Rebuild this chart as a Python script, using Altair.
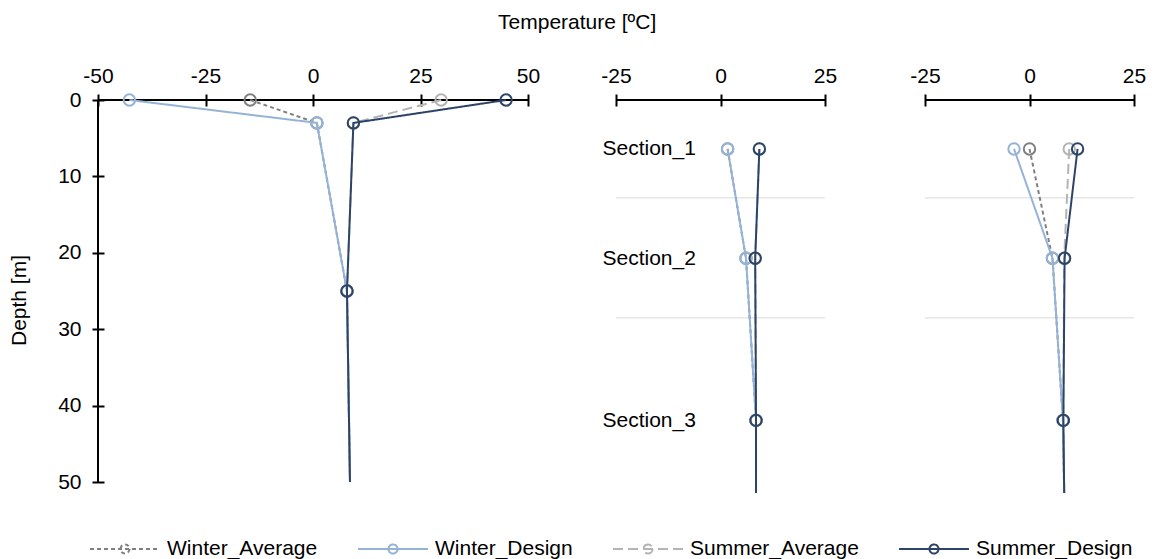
import altair as alt
import pandas as pd

FONT = "Liberation Sans"
FS = 21

# ---------------- data ----------------
series_names = ["Winter_Average", "Winter_Design", "Summer_Average", "Summer_Design"]
series_colors = ["#808080", "#95b3d7", "#b4b4b4", "#2b4468"]
series_dashes = [[4, 3], [1, 0], [10, 5], [1, 0]]

# Panel 1: depth profile (m)
depth_main = [0, 3, 25, 50]
marker_main = [1, 1, 1, 0]
winter_avg_main = [-14.6, 0.9, 7.9, 8.6]
winter_design_main = [-42.7, 0.9, 7.9, 8.6]
summer_avg_main = [29.8, 9.4, 7.9, 8.6]
summer_design_main = [44.9, 9.4, 7.9, 8.6]

# Section panels
section_names = ["Section_1", "Section_2", "Section_3"]
section_depths = [6.4, 20.7, 41.9, 51.4]
section_markers = [1, 1, 1, 0]
section_bounds = [12.8, 28.5]

winter_avg_a = [1.7, 6.1, 8.5, 8.5]
winter_design_a = [1.7, 6.1, 8.5, 8.5]
summer_avg_a = [9.3, 8.3, 8.5, 8.5]
summer_design_a = [9.3, 8.3, 8.5, 8.5]

winter_avg_b = [0.0, 5.5, 8.0, 8.3]
winter_design_b = [-3.7, 5.5, 8.0, 8.3]
summer_avg_b = [9.5, 8.3, 8.1, 8.3]
summer_design_b = [11.5, 8.4, 8.1, 8.3]

main_ticks_x = [-50, -25, 0, 25, 50]
main_ticks_y = [0, 10, 20, 30, 40, 50]
sec_ticks_x = [-25, 0, 25]


def make_df(depths, markers, values_list):
    rows = []
    for name, vals in zip(series_names, values_list):
        for d, m, v in zip(depths, markers, vals):
            rows.append({"series": name, "depth": d, "temp": v, "marker": m})
    return pd.DataFrame(rows)


df_main = make_df(depth_main, marker_main,
                  [winter_avg_main, winter_design_main, summer_avg_main, summer_design_main])
df_a = make_df(section_depths, section_markers,
               [winter_avg_a, winter_design_a, summer_avg_a, summer_design_a])
df_b = make_df(section_depths, section_markers,
               [winter_avg_b, winter_design_b, summer_avg_b, summer_design_b])

legend_path = ("M-1,0H1M0.13,0A0.13,0.13 0 1,1 -0.13,0"
               "A0.13,0.13 0 1,1 0.13,0")

color_scale = alt.Scale(domain=series_names, range=series_colors)
dash_scale = alt.Scale(domain=series_names, range=series_dashes)
legend = alt.Legend(orient="none", legendX=-9, legendY=413,
                    direction="horizontal", columns=4, title=None,
                    symbolType=legend_path, symbolSize=4900, symbolStrokeWidth=2,
                    labelFontSize=FS, labelFont=FONT, labelColor="black",
                    columnPadding=36, labelOffset=6, labelLimit=300)

label_expr_sections = " : ".join(
    f"datum.value == {d} ? '{n}'" for d, n in zip(section_depths, section_names)
) + " : ''"


def panel(df, x_domain, x_ticks, width, height, y_domain, y_axis, left_line):
    x_scale = alt.Scale(domain=x_domain, nice=False, zero=False)
    y_scale = alt.Scale(domain=y_domain, reverse=True, nice=False, zero=False)
    x_axis = alt.Axis(orient="top", values=x_ticks, offset=-6, tickSize=12, tickWidth=2,
                      tickColor="black", domain=False, grid=False, labelPadding=8,
                      labelFontSize=FS, labelFont=FONT, labelColor="black",
                      labelFlush=False, labelOverlap=False, title=None,
                      labelExpr="toString(datum.value)")
    layers = []
    # axis line at the top (depth 0)
    layers.append(alt.Chart(pd.DataFrame({"depth": [y_domain[0]]})).mark_rule(
        color="black", strokeWidth=2).encode(y=alt.Y("depth:Q", scale=y_scale, axis=y_axis)))
    if left_line:
        layers.append(alt.Chart(pd.DataFrame({"temp": [x_domain[0]]})).mark_rule(
            color="black", strokeWidth=2).encode(x=alt.X("temp:Q", scale=x_scale, axis=x_axis)))
    else:
        layers.append(alt.Chart(pd.DataFrame({"depth": section_bounds})).mark_rule(
            color="#d9d9d9", strokeWidth=1).encode(y=alt.Y("depth:Q", scale=y_scale, axis=y_axis)))
    for name in series_names:
        base = alt.Chart(df).transform_filter(alt.datum.series == name)
        line = base.mark_line(strokeWidth=2).encode(
            x=alt.X("temp:Q", scale=x_scale, axis=x_axis),
            y=alt.Y("depth:Q", scale=y_scale, axis=y_axis),
            color=alt.Color("series:N", scale=color_scale, legend=legend),
            strokeDash=alt.StrokeDash("series:N", scale=dash_scale, legend=legend),
            order="depth:Q",
        )
        pts = base.transform_filter(alt.datum.marker == 1).mark_point(
            shape="circle", filled=False, size=130, strokeWidth=2, opacity=1).encode(
            x=alt.X("temp:Q", scale=x_scale, axis=x_axis),
            y=alt.Y("depth:Q", scale=y_scale, axis=y_axis),
            color=alt.Color("series:N", scale=color_scale, legend=None),
        )
        layers += [line, pts]
    return alt.layer(*layers).properties(width=width, height=height)


y_axis_main = alt.Axis(orient="left", values=main_ticks_y, offset=-6, tickSize=12, tickWidth=2,
                       tickColor="black", domain=False, grid=False, labelPadding=11,
                       labelFontSize=FS, labelFont=FONT, labelColor="black",
                       title="Depth [m]", titleFontSize=FS, titleFont=FONT,
                       titleFontWeight="normal", titleColor="black", titlePadding=28,
                       titleY=200)
y_axis_sec = alt.Axis(orient="left", values=section_depths[:3], labelExpr=label_expr_sections,
                      domain=False, ticks=False, grid=False, labelAlign="left",
                      labelPadding=14, labelFontSize=FS, labelFont=FONT, labelColor="black",
                      title=None, labelOverlap=False)

p1 = panel(df_main, [-50, 50], main_ticks_x, 430, 382, [0, 50], y_axis_main, True)
p2 = panel(df_a, [-25, 25], sec_ticks_x, 209, 393, [0, 51.4], y_axis_sec, False)
p3 = panel(df_b, [-25, 25], sec_ticks_x, 209, 393, [0, 51.4], None, False)

chart = alt.hconcat(
    p1,
    alt.hconcat(p2, p3, spacing=100, bounds="flush"),
    spacing=88, bounds="flush",
).properties(
    title=alt.Title("Temperature [ºC]", fontSize=FS, font=FONT, fontWeight="normal",
                    color="black", anchor="middle", offset=32),
    padding={"left": 0, "top": 4, "right": 0, "bottom": 0},
).configure(font=FONT).configure_view(stroke=None)

chart.save("out.html", embed_options={"renderer": "svg", "actions": False})
